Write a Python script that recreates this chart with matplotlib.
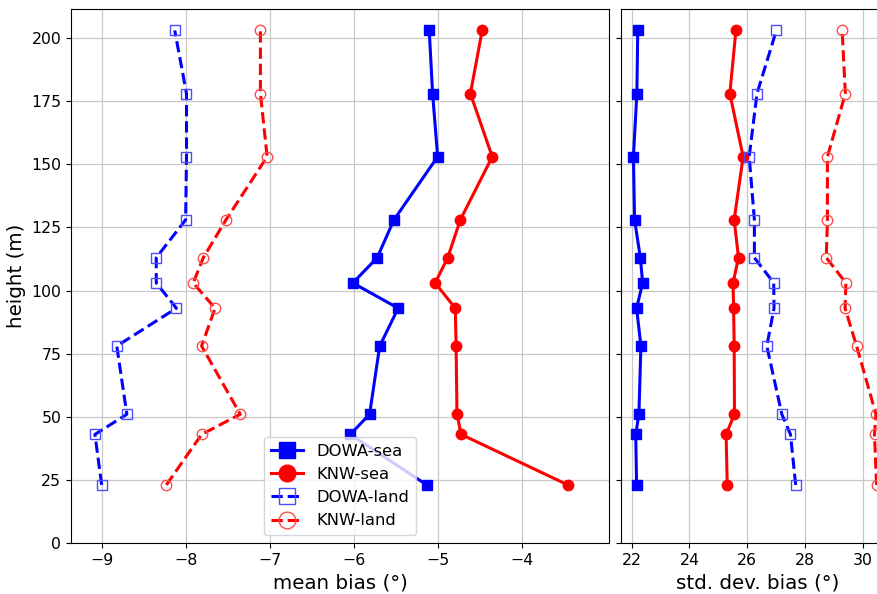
import matplotlib
matplotlib.use("Agg")
import matplotlib.pyplot as plt

heights = [23, 43, 51, 78, 93, 103, 113, 128, 153, 178, 203]

# mean bias (deg)
mean_dowa_sea = [-5.13, -6.04, -5.81, -5.69, -5.47, -6.01, -5.72, -5.52, -5.00, -5.06, -5.10]
mean_knw_sea = [-3.45, -4.72, -4.77, -4.78, -4.79, -5.03, -4.88, -4.73, -4.35, -4.61, -4.47]
mean_dowa_land = [-9.00, -9.08, -8.70, -8.82, -8.11, -8.35, -8.35, -8.00, -7.99, -7.99, -8.13]
mean_knw_land = [-8.23, -7.81, -7.35, -7.81, -7.65, -7.91, -7.79, -7.52, -7.03, -7.11, -7.11]

# standard deviation of bias (deg)
std_dowa_sea = [22.17, 22.14, 22.25, 22.32, 22.17, 22.38, 22.30, 22.10, 22.06, 22.18, 22.21]
std_knw_sea = [25.31, 25.27, 25.56, 25.55, 25.53, 25.51, 25.70, 25.55, 25.86, 25.40, 25.61]
std_dowa_land = [27.68, 27.50, 27.20, 26.68, 26.93, 26.92, 26.25, 26.25, 26.07, 26.34, 27.01]
std_knw_land = [30.48, 30.41, 30.46, 29.79, 29.39, 29.42, 28.74, 28.78, 28.78, 29.40, 29.29]

labels = ["DOWA-sea", "KNW-sea", "DOWA-land", "KNW-land"]

W, H = 878, 594
fig = plt.figure(figsize=(W / 100, H / 100), dpi=100)
ax1 = fig.add_axes([71 / W, (H - 543) / H, (609 - 71) / W, (543 - 9) / H])
ax2 = fig.add_axes([621 / W, (H - 543) / H, (895 - 621) / W, (543 - 9) / H], sharey=ax1)

sea_kw = dict(lw=2.2, markersize=7.5)
land_kw = dict(lw=2.2, ls="--", markersize=7.5, markerfacecolor="none", markeredgewidth=1.0)


def draw(ax, dsea, ksea, dland, kland):
    ax.plot(dsea, heights, "s-", color="blue", label=labels[0], **sea_kw)
    ax.plot(ksea, heights, "o-", color="red", label=labels[1], **sea_kw)
    ax.plot(dland, heights, "s", color="blue", label=labels[2],
            markeredgecolor=(0.3, 0.3, 1.0), **land_kw)
    ax.plot(kland, heights, "o", color="red", label=labels[3],
            markeredgecolor=(1.0, 0.3, 0.3), **land_kw)
    ax.grid(True, color="#c8c8c8", lw=0.9)
    ax.set_axisbelow(True)
    ax.tick_params(labelsize=11.3)


draw(ax1, mean_dowa_sea, mean_knw_sea, mean_dowa_land, mean_knw_land)
draw(ax2, std_dowa_sea, std_knw_sea, std_dowa_land, std_knw_land)

ax1.set_xlim(-9.365, -2.96)
ax1.set_ylim(0, 211.5)
ax1.set_yticks([0, 25, 50, 75, 100, 125, 150, 175, 200])
ax1.set_xticks([-9, -8, -7, -6, -5, -4])
ax1.set_xlabel("mean bias (°)", fontsize=14.3)
ax1.set_ylabel("height (m)", fontsize=14.3)
ax1.legend(loc="lower center", fontsize=11.8, markerscale=1.6, handlelength=2.0)

ax2.set_xlim(21.63, 31.12)
ax2.set_xticks([22, 24, 26, 28, 30])
ax2.tick_params(axis="y", labelleft=False)
ax2.set_xlabel("std. dev. bias (°)", fontsize=14.3)
ax2.spines["right"].set_visible(False)

fig.savefig("out.png", dpi=100)
